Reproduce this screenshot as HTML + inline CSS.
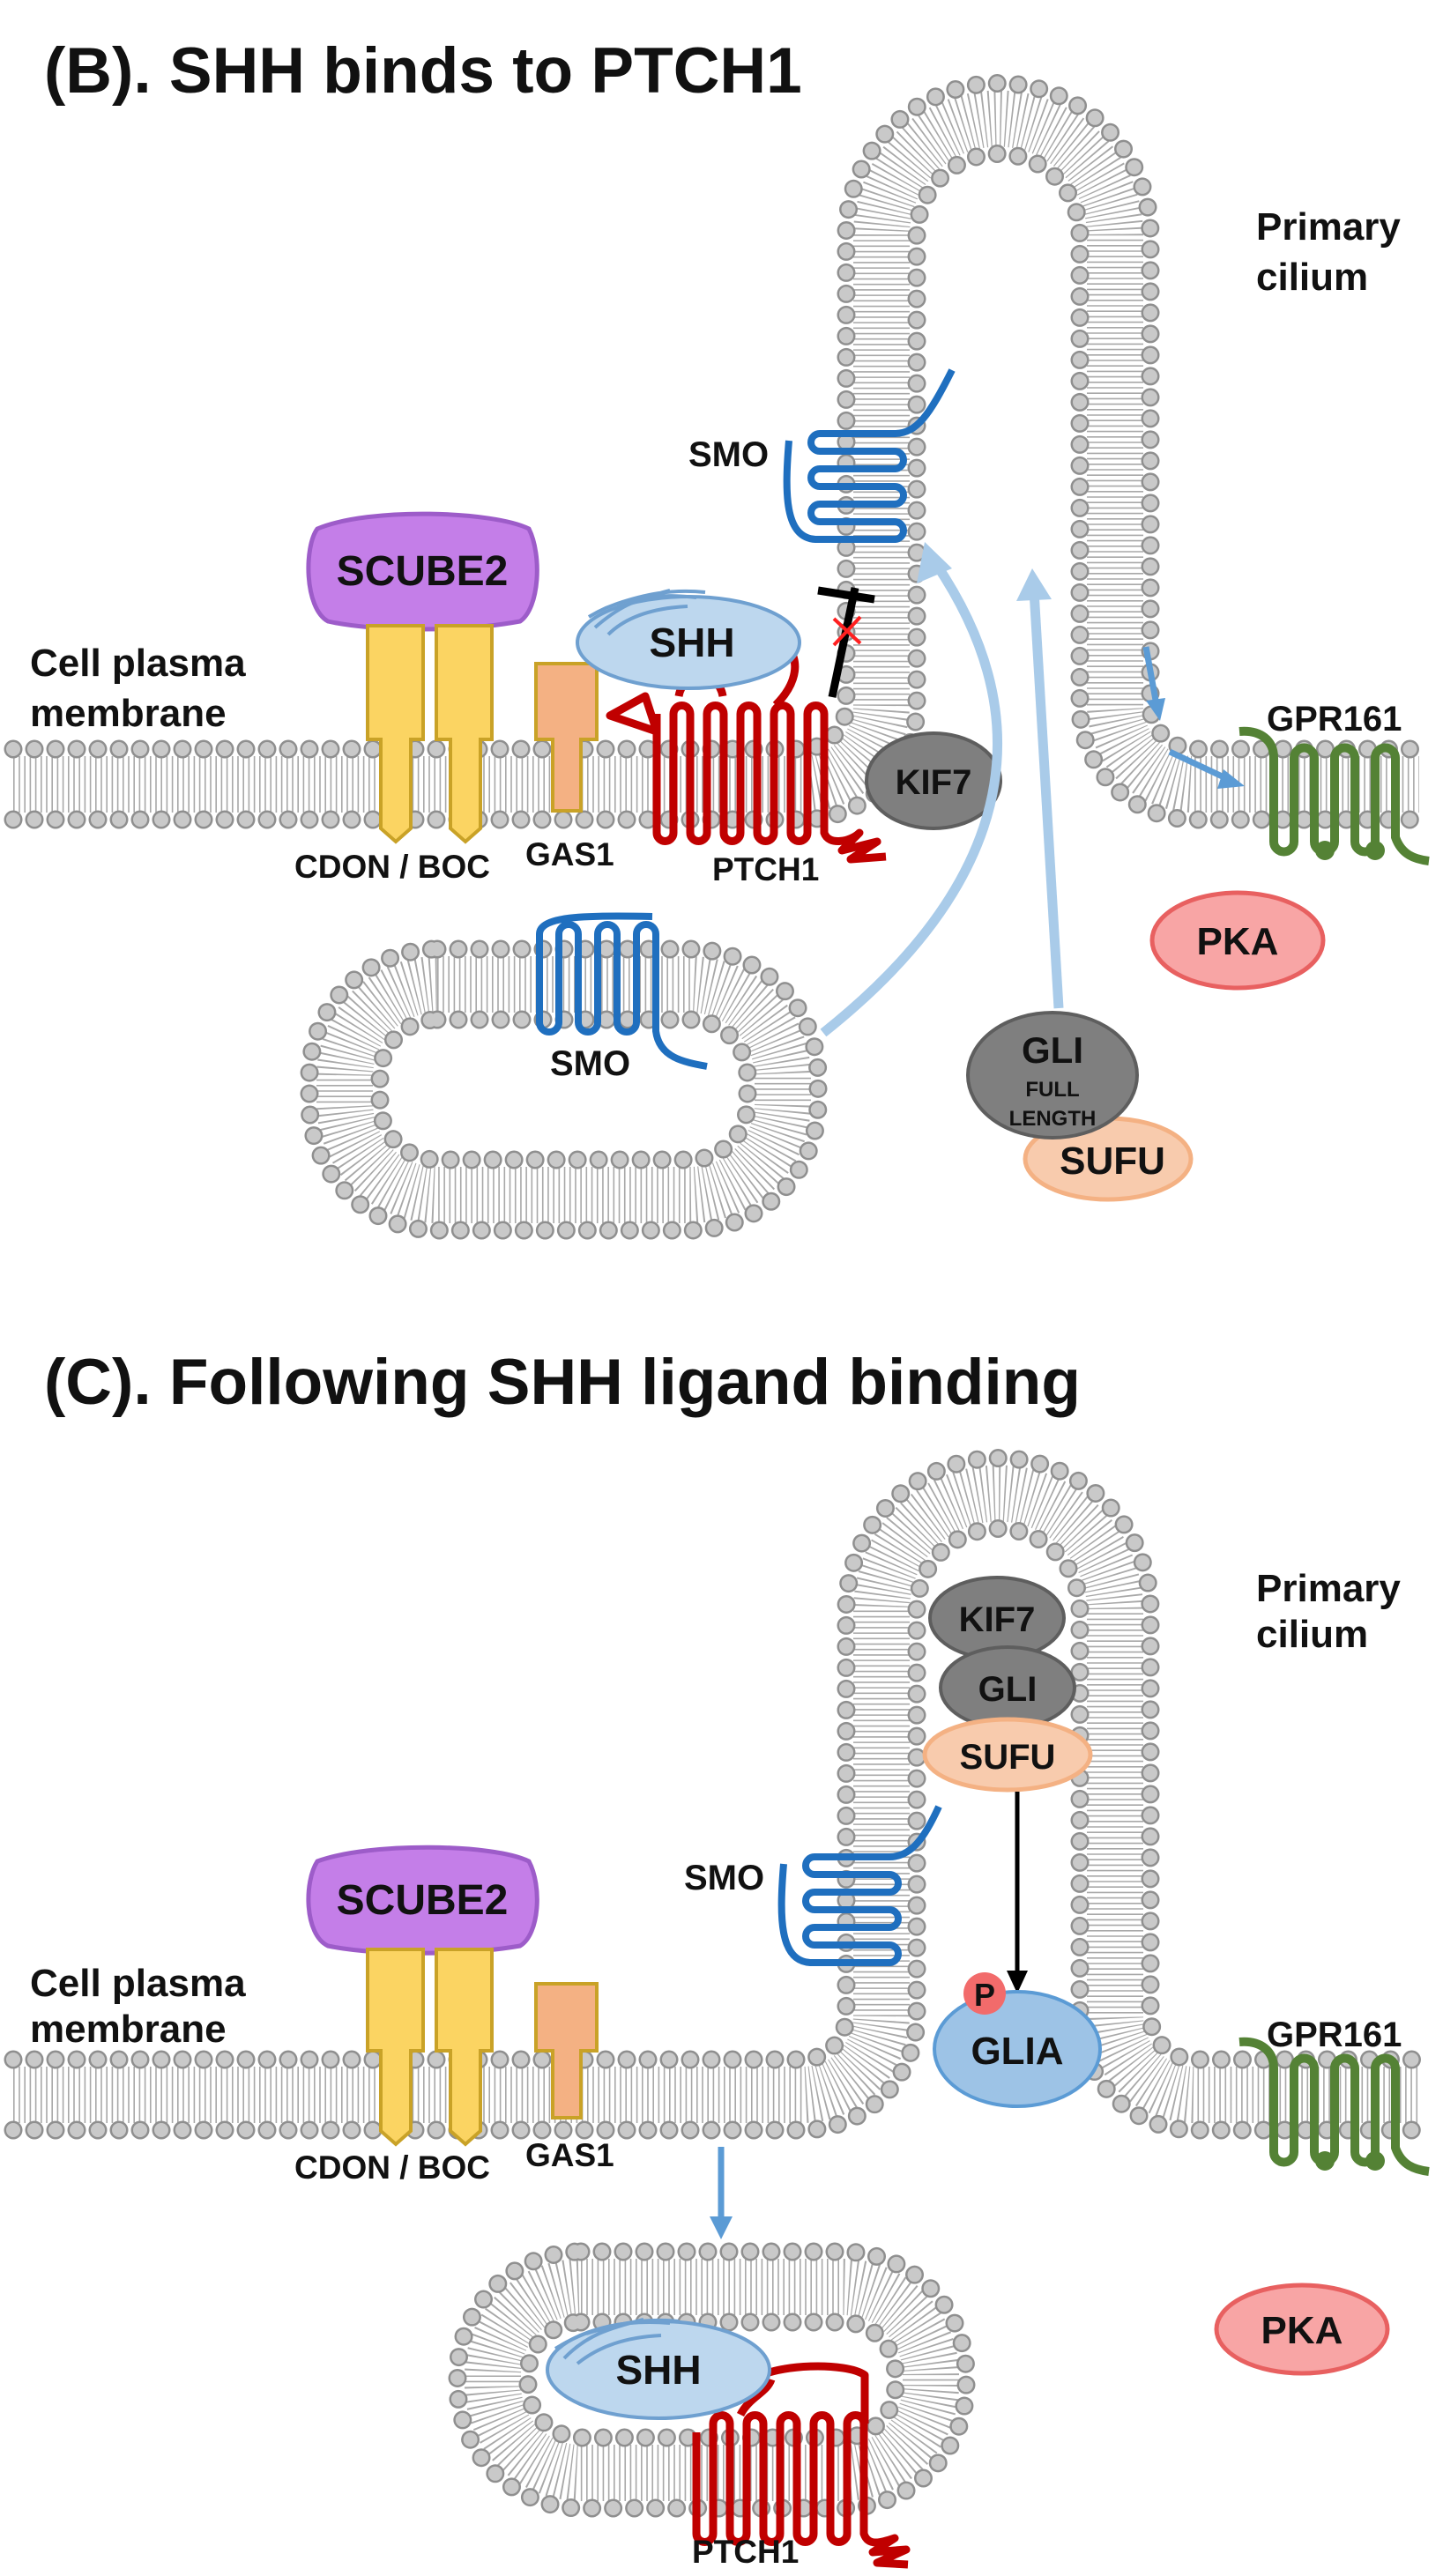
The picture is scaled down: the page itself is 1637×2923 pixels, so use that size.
<!DOCTYPE html>
<html><head><meta charset="utf-8"><style>
html,body{margin:0;padding:0;background:#fff}
svg{display:block}
text{font-family:"Liberation Sans",Arial,sans-serif;font-weight:bold;fill:#111}
.tail{fill:none;stroke:#a8a8a8;stroke-width:64;stroke-dasharray:1.6 4.6}
.ho{fill:none;stroke:#8f8f8f;stroke-width:21;stroke-linecap:round;stroke-dasharray:0 24}
.hi{fill:none;stroke:#c9c9c9;stroke-width:16;stroke-linecap:round;stroke-dasharray:0 24}
.smo{fill:none;stroke:#1f6fbf;stroke-width:8;stroke-linejoin:round}
.ptc{fill:none;stroke:#c00000;stroke-width:9;stroke-linejoin:round}
.gpr{fill:none;stroke:#548235;stroke-width:10}
.lb{fill:none;stroke:#a9cbe9;stroke-width:11}
</style></head><body>
<svg width="1637" height="2923" viewBox="0 0 1637 2923" xmlns="http://www.w3.org/2000/svg">
<!-- ================= PANEL B ================= -->
<text x="50" y="105" font-size="73">(B). SHH binds to PTCH1</text>

<!-- membrane + cilium -->
<g>
<path class="tail" d="M 15 890 H 910 A 90 90 0 0 0 1000 800 V 267 A 132.5 132.5 0 0 1 1265 267 V 800 A 90 90 0 0 0 1355 890 H 1610"/>
<path class="ho" d="M 15 850 H 910 A 50 50 0 0 0 960 800 V 267 A 172.5 172.5 0 0 1 1305 267 V 800 A 50 50 0 0 0 1355 850 H 1610"/>
<path class="hi" d="M 15 850 H 910 A 50 50 0 0 0 960 800 V 267 A 172.5 172.5 0 0 1 1305 267 V 800 A 50 50 0 0 0 1355 850 H 1610"/>
<path class="ho" d="M 15 930 H 910 A 130 130 0 0 0 1040 800 V 267 A 92.5 92.5 0 0 1 1225 267 V 800 A 130 130 0 0 0 1355 930 H 1610"/>
<path class="hi" d="M 15 930 H 910 A 130 130 0 0 0 1040 800 V 267 A 92.5 92.5 0 0 1 1225 267 V 800 A 130 130 0 0 0 1355 930 H 1610"/>
</g>

<!-- vesicle B -->
<rect class="tail" x="391" y="1117" width="497" height="239" rx="105"/>
<rect class="ho" x="351" y="1077" width="577" height="319" rx="145"/>
<rect class="hi" x="351" y="1077" width="577" height="319" rx="145"/>
<rect class="ho" x="431" y="1157" width="417" height="159" rx="65"/>
<rect class="hi" x="431" y="1157" width="417" height="159" rx="65"/>

<!-- SCUBE2 B -->
<path d="M 360 600 C 420 575, 560 580, 600 600 C 615 630, 612 690, 590 705 C 520 718, 420 716, 372 705 C 345 690, 345 620, 360 600 Z" fill="#c47ee8" stroke="#9d5cc9" stroke-width="5"/>
<text x="479" y="664" font-size="48" text-anchor="middle" fill="#1a1a1a">SCUBE2</text>
<!-- CDON/BOC -->
<path d="M 417 710 H 480 V 839 H 466 V 940 L 449 955 L 432 940 V 839 H 417 Z" fill="#fbd462" stroke="#c9a227" stroke-width="4"/>
<path d="M 495 710 H 558 V 839 H 545 V 940 L 528 955 L 511 940 V 839 H 495 Z" fill="#fbd462" stroke="#c9a227" stroke-width="4"/>
<!-- GAS1 -->
<path d="M 608 753 H 677 V 839 H 659 V 920 H 627 V 839 H 608 Z" fill="#f4b183" stroke="#c9a227" stroke-width="4"/>
<text x="334" y="996" font-size="37">CDON / BOC</text>
<text x="596" y="982" font-size="37">GAS1</text>
<text x="34" y="767" font-size="44">Cell plasma</text>
<text x="34" y="824" font-size="44">membrane</text>
<text x="1425" y="272" font-size="44">Primary</text>
<text x="1425" y="329" font-size="44">cilium</text>

<!-- PTCH1 B -->
<path class="ptc" d="M 745 830 L 692 812 L 732 790 L 745 830 M 745 810 V 945 A 9.5 9.5 0 0 0 764 945 V 810 A 9.5 9.5 0 0 1 783 810 V 945 A 9.5 9.5 0 0 0 802 945 V 810 A 9.5 9.5 0 0 1 821 810 V 945 A 9.5 9.5 0 0 0 840 945 V 810 A 9.5 9.5 0 0 1 859 810 V 945 A 9.5 9.5 0 0 0 878 945 V 810 A 9.5 9.5 0 0 1 897 810 V 945 A 9.5 9.5 0 0 0 916 945 V 810 A 9.5 9.5 0 0 1 935 810 V 945 C 940 960, 965 955, 975 945 L 955 965 L 995 955 L 965 975 L 1005 972"/>
<path class="ptc" d="M 770 790 C 775 760, 815 760, 820 790 M 880 800 C 900 780, 905 760, 900 745"/>
<text x="808" y="999" font-size="37">PTCH1</text>

<!-- SHH B -->
<ellipse cx="781" cy="729" rx="126" ry="52" fill="#bdd7ee" stroke="#6fa0d0" stroke-width="4"/>
<path d="M 668 700 C 700 680, 740 672, 790 678 M 675 712 C 700 690, 720 680, 760 670 M 690 720 C 710 700, 740 690, 780 688 M 700 685 C 730 675, 760 668, 800 672" fill="none" stroke="#6fa0d0" stroke-width="4"/>
<text x="785" y="745" font-size="46" text-anchor="middle" fill="#2b2b2b">SHH</text>

<!-- SMO cilium B -->
<path class="smo" d="M 895 500 C 890 560, 890 610, 925 612 H 1015 A 10 10 0 0 0 1015 592 H 930 A 10 10 0 0 1 930 572 H 1015 A 10 10 0 0 0 1015 552 H 930 A 10 10 0 0 1 930 532 H 1015 A 10 10 0 0 0 1015 512 H 930 A 10 10 0 0 1 930 492 H 1015 C 1040 492, 1055 470, 1080 420"/>
<text x="781" y="529" font-size="40">SMO</text>

<!-- inhibition T -->
<line x1="944" y1="791" x2="970" y2="667" stroke="#000" stroke-width="9"/>
<line x1="928" y1="670" x2="992" y2="680" stroke="#000" stroke-width="9"/>
<path d="M 946 702 L 976 730 M 976 700 L 946 732" stroke="#ff2020" stroke-width="4"/>

<!-- KIF7 B -->
<ellipse cx="1059" cy="886" rx="76" ry="54" fill="#7f7f7f" stroke="#5e5e5e" stroke-width="4"/>
<text x="1059" y="901" font-size="40" text-anchor="middle" fill="#1a1a1a">KIF7</text>

<!-- SMO vesicle -->
<path class="smo" d="M 740 1040 C 660 1038, 612 1040, 612 1060 V 1160 A 11 11 0 0 0 634 1160 V 1060 A 11 11 0 0 1 656 1060 V 1160 A 11 11 0 0 0 678 1160 V 1060 A 11 11 0 0 1 700 1060 V 1160 A 11 11 0 0 0 722 1160 V 1060 A 11 11 0 0 1 744 1060 V 1170 C 748 1200, 775 1205, 802 1210"/>
<text x="624" y="1220" font-size="40">SMO</text>

<!-- light blue arrows -->
<path class="lb" d="M 934 1172 C 1100 1040, 1210 860, 1062 640"/>
<polygon points="1049,615 1040,662 1080,645" fill="#a9cbe9"/>
<path class="lb" d="M 1201 1144 L 1173 670"/>
<polygon points="1171,645 1153,682 1193,680" fill="#a9cbe9"/>
<!-- small blue arrows in cilium -->
<path d="M 1300 734 L 1312 800" stroke="#5b9bd5" stroke-width="7"/>
<polygon points="1316,818 1300,795 1322,792" fill="#5b9bd5"/>
<path d="M 1327 853 L 1395 885" stroke="#5b9bd5" stroke-width="7"/>
<polygon points="1412,892 1388,873 1381,895" fill="#5b9bd5"/>

<!-- GPR161 B -->
<path class="gpr" d="M 1406 830 C 1430 828, 1445 840, 1445 860 V 955 A 11.5 11.5 0 0 0 1468 955 V 860 A 11.5 11.5 0 0 1 1491 860 V 955 A 11.5 11.5 0 0 0 1514 955 V 860 A 11.5 11.5 0 0 1 1537 860 V 955 A 11.5 11.5 0 0 0 1560 955 V 860 A 11.5 11.5 0 0 1 1583 860 V 950 C 1590 970, 1605 975, 1621 977"/>
<circle cx="1503" cy="965" r="11" fill="#548235"/>
<circle cx="1560" cy="965" r="11" fill="#548235"/>
<text x="1437" y="829" font-size="40">GPR161</text>

<!-- PKA B -->
<ellipse cx="1404" cy="1067" rx="97" ry="54" fill="#f8a5a5" stroke="#e86060" stroke-width="5"/>
<text x="1404" y="1083" font-size="44" text-anchor="middle">PKA</text>

<!-- SUFU / GLI B -->
<ellipse cx="1257" cy="1315" rx="94" ry="46" fill="#f8cbad" stroke="#f4b183" stroke-width="5"/>
<text x="1262" y="1332" font-size="44" text-anchor="middle">SUFU</text>
<ellipse cx="1194" cy="1220" rx="96" ry="71" fill="#7f7f7f" stroke="#5e5e5e" stroke-width="4"/>
<text x="1194" y="1206" font-size="42" text-anchor="middle" fill="#1a1a1a">GLI</text>
<text x="1194" y="1244" font-size="24" text-anchor="middle" fill="#1a1a1a">FULL</text>
<text x="1194" y="1277" font-size="24" text-anchor="middle" fill="#1a1a1a">LENGTH</text>

<!-- ================= PANEL C ================= -->
<text x="50" y="1593" font-size="73">(C). Following SHH ligand binding</text>

<g transform="translate(0,1487)">
<path class="tail" d="M 15 890 H 910 A 90 90 0 0 0 1000 800 V 340 A 132.5 132.5 0 0 1 1265 340 V 800 A 90 90 0 0 0 1355 890 H 1610"/>
<path class="ho" d="M 15 850 H 910 A 50 50 0 0 0 960 800 V 340 A 172.5 172.5 0 0 1 1305 340 V 800 A 50 50 0 0 0 1355 850 H 1610"/>
<path class="hi" d="M 15 850 H 910 A 50 50 0 0 0 960 800 V 340 A 172.5 172.5 0 0 1 1305 340 V 800 A 50 50 0 0 0 1355 850 H 1610"/>
<path class="ho" d="M 15 930 H 910 A 130 130 0 0 0 1040 800 V 340 A 92.5 92.5 0 0 1 1225 340 V 800 A 130 130 0 0 0 1355 930 H 1610"/>
<path class="hi" d="M 15 930 H 910 A 130 130 0 0 0 1040 800 V 340 A 92.5 92.5 0 0 1 1225 340 V 800 A 130 130 0 0 0 1355 930 H 1610"/>
<!-- GPR161 C -->
<path class="gpr" d="M 1406 830 C 1430 828, 1445 840, 1445 860 V 955 A 11.5 11.5 0 0 0 1468 955 V 860 A 11.5 11.5 0 0 1 1491 860 V 955 A 11.5 11.5 0 0 0 1514 955 V 860 A 11.5 11.5 0 0 1 1537 860 V 955 A 11.5 11.5 0 0 0 1560 955 V 860 A 11.5 11.5 0 0 1 1583 860 V 950 C 1590 970, 1605 975, 1621 977"/>
<circle cx="1503" cy="965" r="11" fill="#548235"/>
<circle cx="1560" cy="965" r="11" fill="#548235"/>
</g>
<text x="1437" y="2322" font-size="40">GPR161</text>

<!-- vesicle C -->
<rect class="tail" x="559" y="2595" width="497" height="211" rx="100"/>
<rect class="ho" x="519" y="2555" width="577" height="291" rx="140"/>
<rect class="hi" x="519" y="2555" width="577" height="291" rx="140"/>
<rect class="ho" x="599" y="2635" width="417" height="131" rx="60"/>
<rect class="hi" x="599" y="2635" width="417" height="131" rx="60"/>

<!-- SCUBE2 C -->
<path d="M 360 2112 C 420 2090, 560 2092, 600 2112 C 615 2140, 612 2195, 590 2208 C 520 2220, 420 2218, 372 2208 C 345 2195, 345 2135, 360 2112 Z" fill="#c47ee8" stroke="#9d5cc9" stroke-width="5"/>
<text x="479" y="2172" font-size="48" text-anchor="middle" fill="#1a1a1a">SCUBE2</text>
<path d="M 417 2212 H 480 V 2327 H 466 V 2418 L 449 2433 L 432 2418 V 2327 H 417 Z" fill="#fbd462" stroke="#c9a227" stroke-width="4"/>
<path d="M 495 2212 H 558 V 2327 H 545 V 2418 L 528 2433 L 511 2418 V 2327 H 495 Z" fill="#fbd462" stroke="#c9a227" stroke-width="4"/>
<path d="M 608 2251 H 677 V 2327 H 659 V 2403 H 627 V 2327 H 608 Z" fill="#f4b183" stroke="#c9a227" stroke-width="4"/>
<text x="334" y="2472" font-size="37">CDON / BOC</text>
<text x="596" y="2458" font-size="37">GAS1</text>
<text x="34" y="2265" font-size="44">Cell plasma</text>
<text x="34" y="2317" font-size="44">membrane</text>
<text x="1425" y="1817" font-size="44">Primary</text>
<text x="1425" y="1869" font-size="44">cilium</text>

<!-- SMO C -->
<g transform="translate(-6,1615)">
<path class="smo" d="M 895 500 C 890 560, 890 610, 925 612 H 1015 A 10 10 0 0 0 1015 592 H 930 A 10 10 0 0 1 930 572 H 1015 A 10 10 0 0 0 1015 552 H 930 A 10 10 0 0 1 930 532 H 1015 A 10 10 0 0 0 1015 512 H 930 A 10 10 0 0 1 930 492 H 1015 C 1040 492, 1055 470, 1071 435"/>
</g>
<text x="776" y="2144" font-size="40">SMO</text>

<!-- KIF7/GLI/SUFU C -->
<ellipse cx="1131" cy="1836" rx="76" ry="46" fill="#7f7f7f" stroke="#5e5e5e" stroke-width="4"/>
<text x="1131" y="1851" font-size="40" text-anchor="middle" fill="#1a1a1a">KIF7</text>
<ellipse cx="1143" cy="1915" rx="76" ry="46" fill="#7f7f7f" stroke="#5e5e5e" stroke-width="4"/>
<text x="1143" y="1930" font-size="40" text-anchor="middle" fill="#1a1a1a">GLI</text>
<ellipse cx="1143" cy="1991" rx="94" ry="40" fill="#f8cbad" stroke="#f4b183" stroke-width="5"/>
<text x="1143" y="2007" font-size="40" text-anchor="middle">SUFU</text>
<!-- black arrow -->
<line x1="1154" y1="2033" x2="1154" y2="2240" stroke="#000" stroke-width="5"/>
<polygon points="1154,2262 1142,2236 1166,2236" fill="#000"/>
<!-- GLIA -->
<ellipse cx="1154" cy="2325" rx="94" ry="65" fill="#9dc3e6" stroke="#5b9bd5" stroke-width="4"/>
<text x="1154" y="2342" font-size="44" text-anchor="middle" fill="#1a1a1a">GLIA</text>
<circle cx="1117" cy="2262" r="24" fill="#f26b6b"/>
<text x="1117" y="2276" font-size="36" text-anchor="middle" fill="#1a1a1a">P</text>

<!-- blue down arrow -->
<line x1="818" y1="2436" x2="818" y2="2520" stroke="#5b9bd5" stroke-width="7"/>
<polygon points="818,2541 805,2515 831,2515" fill="#5b9bd5"/>

<!-- PKA C -->
<ellipse cx="1477" cy="2643" rx="97" ry="50" fill="#f8a5a5" stroke="#e86060" stroke-width="5"/>
<text x="1477" y="2659" font-size="44" text-anchor="middle">PKA</text>

<!-- PTCH1 C -->
<path class="ptc" d="M 855 2700 C 880 2682, 960 2680, 981 2695 V 2750 M 790 2760 V 2875 A 9.5 9.5 0 0 0 809 2875 V 2750 A 9.5 9.5 0 0 1 828 2750 V 2875 A 9.5 9.5 0 0 0 847 2875 V 2750 A 9.5 9.5 0 0 1 866 2750 V 2875 A 9.5 9.5 0 0 0 885 2875 V 2750 A 9.5 9.5 0 0 1 904 2750 V 2875 A 9.5 9.5 0 0 0 923 2875 V 2750 A 9.5 9.5 0 0 1 942 2750 V 2875 A 9.5 9.5 0 0 0 961 2875 V 2750 A 9.5 9.5 0 0 1 980 2750 V 2875 C 985 2890, 1000 2885, 1015 2880 L 990 2896 L 1028 2893 L 995 2908 L 1030 2910"/>
<path class="ptc" d="M 840 2740 C 850 2720, 870 2715, 875 2700"/>
<!-- SHH C -->
<ellipse cx="747" cy="2689" rx="126" ry="55" fill="#bdd7ee" stroke="#6fa0d0" stroke-width="4"/>
<path d="M 630 2665 C 670 2640, 710 2632, 760 2636 M 640 2676 C 665 2650, 690 2642, 730 2632 M 655 2682 C 680 2662, 710 2652, 750 2650 M 665 2648 C 700 2637, 730 2630, 770 2634" fill="none" stroke="#6fa0d0" stroke-width="4"/>
<text x="747" y="2705" font-size="46" text-anchor="middle" fill="#2b2b2b">SHH</text>
<text x="785" y="2908" font-size="37">PTCH1</text>
</svg>
</body></html>
